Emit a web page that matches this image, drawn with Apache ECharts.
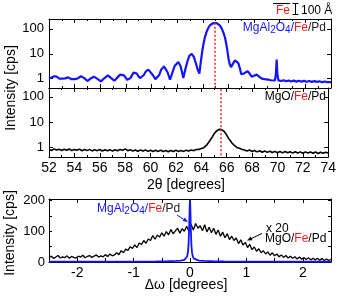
<!DOCTYPE html>
<html><head><meta charset="utf-8">
<script src="https://cdn.jsdelivr.net/npm/echarts@6/dist/echarts.min.js"></script>
<style>html,body{margin:0;padding:0;background:#fff}#c{width:339px;height:296px}</style>
</head><body><div id="c"></div>
<script>
// ---- data ----
const twoThetaTicks = [52,54,56,58,60,62,64,66,68,70,72,74];
const logTicks = [1,10,100];
const dwTicks = [-2,-1,0,1,2];
const peakLines = [64.9, 65.5];
// MgAl2O4/Fe/Pd  XRD  [2theta, cps]
const mgalXrd = [
[52.0,1.0],[52.1,0.95],[52.2,1.1],[52.3,1.05],[52.4,1.25],[52.5,1.3],[52.6,1.2],[52.7,1.15],[52.8,1.0],[52.95,0.9],[53.05,1.0],[53.15,1.08],[53.25,1.02],[53.4,1.2],[53.5,1.12],[53.65,1.05],[53.75,0.95],[53.9,0.85],[54.0,0.95],[54.1,1.05],[54.2,1.0],[54.35,1.2],[54.5,1.25],[54.6,1.15],[54.75,1.05],[54.85,0.92],[55.0,0.8],[55.1,0.9],[55.25,1.02],[55.35,1.1],[55.5,1.2],[55.6,1.1],[55.75,1.0],[55.9,0.88],[56.05,0.78],[56.2,0.92],[56.35,1.08],[56.5,1.25],[56.6,1.35],[56.75,1.2],[56.85,1.05],[57.0,0.9],[57.1,0.82],[57.25,1.0],[57.4,1.2],[57.55,1.45],[57.7,1.6],[57.85,1.35],[57.95,1.15],[58.1,0.9],[58.2,0.8],[58.35,1.05],[58.5,1.45],[58.6,1.75],[58.7,1.9],[58.85,1.6],[58.95,1.3],[59.1,1.05],[59.23,0.95],[59.4,1.4],[59.55,1.95],[59.75,2.3],[59.9,2.0],[60.1,1.4],[60.3,0.95],[60.45,0.83],[60.6,1.4],[60.75,2.3],[60.97,3.1],[61.1,2.7],[61.25,1.8],[61.44,0.9],[61.6,1.6],[61.8,3.2],[62.09,4.7],[62.25,3.3],[62.38,1.8],[62.48,1.07],[62.6,2.0],[62.8,5.0],[62.95,8.3],[63.13,10],[63.3,7.5],[63.45,4.3],[63.6,2.3],[63.73,1.6],[63.85,5],[63.95,12],[64.04,23],[64.17,48],[64.3,78],[64.43,110],[64.56,140],[64.69,160],[64.82,172],[64.95,176],[65.08,170],[65.21,156],[65.34,135],[65.47,105],[65.6,72],[65.73,45],[65.82,26],[65.91,14],[66.0,6.5],[66.1,3.8],[66.2,2.9],[66.3,3.3],[66.4,4.4],[66.51,5.4],[66.64,5.6],[66.77,4.2],[66.9,2.5],[67.0,1.5],[67.08,1.3],[67.2,1.6],[67.35,1.9],[67.5,2.0],[67.65,1.6],[67.81,1.2],[67.95,1.3],[68.2,1.45],[68.4,1.2],[68.6,1.0],[68.8,0.95],[68.95,0.88],[69.1,0.92],[69.3,0.86],[69.45,0.9],[69.62,0.84],[69.7,1.5],[69.76,5.8],[69.82,1.4],[69.9,0.85],[70.1,0.8],[70.3,0.86],[70.5,0.78],[70.7,0.84],[70.9,0.77],[71.1,0.83],[71.3,0.76],[71.5,0.82],[71.7,0.76],[71.9,0.81],[72.1,0.75],[72.3,0.8],[72.5,0.74],[72.7,0.79],[72.9,0.74],[73.1,0.78],[73.3,0.72],[73.5,0.77],[73.7,0.72],[73.85,0.76],[74.0,0.73]
];
// MgO/Fe/Pd  XRD  [2theta, cps]
const mgoXrd = [
[52.0,0.83],[52.2,0.76],[52.4,0.88],[52.6,0.79],[52.8,0.86],[53.0,0.76],[53.2,0.85],[53.4,0.78],[53.6,0.87],[53.8,0.75],[54.0,0.84],[54.2,0.77],[54.4,0.86],[54.6,0.74],[54.8,0.83],[55.0,0.76],[55.2,0.84],[55.4,0.73],[55.6,0.82],[55.8,0.75],[56.0,0.83],[56.2,0.73],[56.4,0.81],[56.6,0.74],[56.8,0.82],[57.0,0.72],[57.2,0.81],[57.4,0.74],[57.6,0.84],[57.8,0.77],[58.0,0.88],[58.2,0.75],[58.4,0.82],[58.6,0.72],[58.8,0.8],[59.0,0.71],[59.2,0.79],[59.4,0.72],[59.6,0.8],[59.8,0.7],[60.0,0.78],[60.2,0.69],[60.4,0.77],[60.6,0.7],[60.8,0.78],[61.0,0.69],[61.2,0.76],[61.4,0.68],[61.6,0.76],[61.8,0.69],[62.0,0.77],[62.2,0.69],[62.4,0.76],[62.6,0.7],[62.8,0.78],[63.0,0.72],[63.2,0.8],[63.4,0.75],[63.6,0.83],[63.8,0.84],[64.0,0.91],[64.2,0.98],[64.4,1.2],[64.6,1.65],[64.8,2.3],[65.0,3.4],[65.2,4.5],[65.4,5.2],[65.5,5.3],[65.6,5.1],[65.8,4.3],[66.0,3.1],[66.2,2.1],[66.4,1.55],[66.6,1.2],[66.8,1.0],[67.0,0.93],[67.2,0.84],[67.4,0.8],[67.6,0.73],[67.8,0.79],[68.0,0.69],[68.2,0.76],[68.4,0.67],[68.6,0.74],[68.8,0.65],[69.0,0.72],[69.2,0.64],[69.4,0.71],[69.6,0.63],[69.8,0.7],[70.0,0.62],[70.2,0.69],[70.4,0.61],[70.6,0.69],[70.8,0.62],[71.0,0.68],[71.2,0.6],[71.4,0.68],[71.6,0.61],[71.8,0.67],[72.0,0.59],[72.2,0.67],[72.4,0.6],[72.6,0.66],[72.8,0.59],[73.0,0.66],[73.2,0.58],[73.4,0.65],[73.6,0.59],[73.8,0.65],[74.0,0.6]
];
// rocking curves [delta omega, cps]
const mgalRocking = [
[-2.5,1],[-2,1],[-1.5,1.2],[-1,1.5],[-0.6,2],[-0.4,2.5],[-0.25,3.5],[-0.16,4.5],[-0.1,7],[-0.07,11],[-0.05,18],[-0.035,35],[-0.025,60],[-0.015,110],[-0.007,170],[0,203],[0.007,170],[0.015,105],[0.025,55],[0.035,32],[0.05,18],[0.07,11],[0.1,7],[0.16,4.5],[0.25,3.5],[0.4,2.5],[0.6,2],[1,1.5],[1.5,1.2],[2,1],[2.5,1]
];
const mgoRocking = [
[-2.50,15],[-2.46,19],[-2.42,12],[-2.38,16],[-2.34,21],[-2.30,13],[-2.26,17],[-2.22,14],[-2.18,20],[-2.14,12],[-2.10,18],[-2.06,15],[-2.02,13],[-1.98,19],[-1.94,16],[-1.90,22],[-1.86,14],[-1.82,18],[-1.78,21],[-1.74,15],[-1.70,19],[-1.66,23],[-1.62,16],[-1.58,20],[-1.54,17],[-1.50,24],[-1.46,18],[-1.42,26],[-1.38,20],[-1.34,23],[-1.30,30],[-1.26,24],[-1.22,37],[-1.18,30],[-1.14,42],[-1.10,38],[-1.06,50],[-1.02,44],[-0.98,56],[-0.94,47],[-0.90,62],[-0.86,57],[-0.82,70],[-0.78,61],[-0.74,75],[-0.70,70],[-0.66,86],[-0.62,74],[-0.58,88],[-0.54,81],[-0.50,95],[-0.46,84],[-0.42,99],[-0.38,88],[-0.34,106],[-0.30,92],[-0.26,101],[-0.22,110],[-0.18,94],[-0.14,108],[-0.10,100],[-0.06,116],[-0.02,101],[0.02,122],[0.06,104],[0.10,125],[0.14,110],[0.18,118],[0.22,102],[0.26,121],[0.30,98],[0.34,113],[0.38,95],[0.42,110],[0.46,90],[0.50,104],[0.54,84],[0.58,97],[0.62,79],[0.66,92],[0.70,73],[0.74,84],[0.78,70],[0.82,78],[0.86,60],[0.90,72],[0.94,55],[0.98,64],[1.02,47],[1.06,57],[1.10,40],[1.14,49],[1.18,35],[1.22,43],[1.26,30],[1.30,37],[1.34,26],[1.38,33],[1.42,22],[1.46,30],[1.50,20],[1.54,26],[1.58,17],[1.62,23],[1.66,15],[1.70,21],[1.74,13],[1.78,19],[1.82,12],[1.86,17],[1.90,10],[1.94,16],[1.98,9],[2.02,15],[2.06,8],[2.10,14],[2.14,7],[2.18,12],[2.22,7],[2.26,12],[2.30,6],[2.34,11],[2.38,5],[2.42,10],[2.46,5],[2.50,9]
];

// ---- chart ----
const FONT = "'Liberation Sans', Arial, sans-serif";
const BLUE = '#1414ff', RED = '#ff1a1a';
const chart = echarts.init(document.getElementById('c'), null, {renderer:'canvas'});

function xAx(grid, pos, showLabels, min, max, interval, fmt){
  return {type:'value', gridIndex:grid, position:pos, min, max, interval,
    axisLine:{show:true, onZero:false, lineStyle:{color:'#000', width:1}},
    axisTick:{show:true, inside:true, length:4, lineStyle:{color:'#000'}},
    minorTick:{show:interval===2, splitNumber:2, length:2, lineStyle:{color:'#000'}},
    splitLine:{show:false},
    axisLabel:{show:showLabels, color:'#000', fontSize:14, fontFamily:FONT, margin:4, formatter:fmt}};
}
function logAx(grid, pos, showLabels, max){
  return {type:'log', logBase:10, gridIndex:grid, position:pos, min:0.42, max,
    axisLine:{show:true, onZero:false, lineStyle:{color:'#000'}},
    axisTick:{show:true, inside:true, length:4, customValues:logTicks, lineStyle:{color:'#000'}},
    splitLine:{show:false},
    axisLabel:{show:showLabels, customValues:logTicks, color:'#000', fontSize:13, fontFamily:FONT, margin:5}};
}
function linAx(grid, pos, showLabels){
  return {type:'value', gridIndex:grid, position:pos, min:0, max:205, interval:50,
    axisLine:{show:true, onZero:false, lineStyle:{color:'#000'}},
    axisTick:{show:true, inside:true, length:3, lineStyle:{color:'#000'}},
    splitLine:{show:false},
    axisLabel:{show:showLabels, showMaxLabel:false, color:'#000', fontSize:13, fontFamily:FONT, margin:4,
      formatter:v => (v % 100 === 0 ? String(v) : '')}};
}
const dwFmt = v => (dwTicks.indexOf(v) >= 0 ? String(v) : '');

const option = {
  animation:false,
  backgroundColor:'#fff',
  grid:[
    {left:49, top:19, width:282, height:69},
    {left:49, top:88, width:282, height:69},
    {left:49, top:199, width:282, height:63}
  ],
  xAxis:[
    xAx(0,'bottom',false,twoThetaTicks[0],twoThetaTicks[twoThetaTicks.length-1],2),
    xAx(0,'top',false,twoThetaTicks[0],twoThetaTicks[twoThetaTicks.length-1],2),
    xAx(1,'bottom',true,twoThetaTicks[0],twoThetaTicks[twoThetaTicks.length-1],2),
    xAx(1,'top',false,twoThetaTicks[0],twoThetaTicks[twoThetaTicks.length-1],2),
    xAx(2,'bottom',true,-2.5,2.5,0.5,dwFmt),
    xAx(2,'top',false,-2.5,2.5,0.5,dwFmt)
  ],
  yAxis:[
    logAx(0,'left',true,250), logAx(0,'right',false,250),
    logAx(1,'left',true,225), logAx(1,'right',false,225),
    linAx(2,'left',true), linAx(2,'right',false)
  ],
  series:[
    {type:'line', xAxisIndex:0, yAxisIndex:0, data:mgalXrd, showSymbol:false, z:3,
      lineStyle:{color:BLUE, width:2.2},
      markLine:{silent:true, symbol:'none', label:{show:false}, lineStyle:{color:RED, type:[2,2], width:1.5},
        data:[[{coord:[peakLines[0],176]},{coord:[peakLines[0],0.42]}]]}},
    {type:'line', xAxisIndex:2, yAxisIndex:2, data:mgoXrd, showSymbol:false, z:3,
      lineStyle:{color:'#000', width:1.6},
      markLine:{silent:true, symbol:'none', label:{show:false}, lineStyle:{color:RED, type:[2,2], width:1.5},
        data:[[{coord:[peakLines[1],200]},{coord:[peakLines[1],0.42]}]]}},
    {type:'line', xAxisIndex:4, yAxisIndex:4, data:mgoRocking, showSymbol:false, z:2,
      lineStyle:{color:'#000', width:1.3}},
    {type:'line', xAxisIndex:4, yAxisIndex:4, data:mgalRocking, showSymbol:false, z:3,
      lineStyle:{color:BLUE, width:1.8}}
  ],
  graphic:[
    {type:'text', x:11, y:88, rotation:Math.PI/2, style:{text:'Intensity [cps]', font:'14px '+FONT, fill:'#000', align:'center', verticalAlign:'middle'}},
    {type:'text', x:10, y:233, rotation:Math.PI/2, style:{text:'Intensity [cps]', font:'14px '+FONT, fill:'#000', align:'center', verticalAlign:'middle'}},
    {type:'text', x:186, y:185, style:{text:'2θ [degrees]', font:'14px '+FONT, fill:'#000', align:'center', verticalAlign:'middle'}},
    {type:'text', x:186, y:285, style:{text:'Δω [degrees]', font:'14px '+FONT, fill:'#000', align:'center', verticalAlign:'middle'}},
    // top-right legend
    {type:'text', x:276, y:11, style:{text:'Fe', font:'12px '+FONT, fill:RED, align:'left', verticalAlign:'middle'}},
    {type:'line', shape:{x1:273, y1:3.5, x2:290, y2:3.5}, style:{stroke:'#000', lineWidth:1}},
    {type:'line', shape:{x1:295.5, y1:3, x2:295.5, y2:15}, style:{stroke:'#000', lineWidth:1}},
    {type:'line', shape:{x1:292.5, y1:3.5, x2:298.5, y2:3.5}, style:{stroke:'#000', lineWidth:1}},
    {type:'line', shape:{x1:292.5, y1:14.5, x2:298.5, y2:14.5}, style:{stroke:'#000', lineWidth:1}},
    {type:'text', x:301, y:11, style:{text:'100 Å', font:'12px '+FONT, fill:'#000', align:'left', verticalAlign:'middle'}},
    // panel labels
    {type:'text', x:326, y:28, style:{text:'{b|MgAl}{s|2}{b|O}{s|4}{b|/}{r|Fe}{k|/Pd}', align:'right', verticalAlign:'middle',
      rich:{b:{fill:BLUE, fontSize:12, fontFamily:FONT, lineHeight:14}, s:{fill:BLUE, fontSize:10, fontFamily:FONT, lineHeight:6, verticalAlign:'bottom'},
            r:{fill:RED, fontSize:12, fontFamily:FONT, lineHeight:14}, k:{fill:'#222', fontSize:12, fontFamily:FONT, lineHeight:14}}}},
    {type:'text', x:326, y:97, style:{text:'{k|MgO/}{r|Fe}{k|/Pd}', align:'right', verticalAlign:'middle',
      rich:{r:{fill:RED, fontSize:12, fontFamily:FONT}, k:{fill:'#000', fontSize:12, fontFamily:FONT}}}},
    {type:'text', x:97, y:209, style:{text:'{b|MgAl}{s|2}{b|O}{s|4}{b|/}{r|Fe}{k|/Pd}', align:'left', verticalAlign:'middle',
      rich:{b:{fill:BLUE, fontSize:12, fontFamily:FONT, lineHeight:14}, s:{fill:BLUE, fontSize:10, fontFamily:FONT, lineHeight:6, verticalAlign:'bottom'},
            r:{fill:RED, fontSize:12, fontFamily:FONT, lineHeight:14}, k:{fill:'#222', fontSize:12, fontFamily:FONT, lineHeight:14}}}},
    {type:'text', x:266, y:229, style:{text:'x 20', font:'12px '+FONT, fill:'#000', align:'left', verticalAlign:'middle'}},
    {type:'text', x:265, y:238.5, style:{text:'{k|MgO/}{r|Fe}{k|/Pd}', align:'left', verticalAlign:'middle',
      rich:{r:{fill:RED, fontSize:12, fontFamily:FONT}, k:{fill:'#000', fontSize:12, fontFamily:FONT}}}},
    // arrows
    {type:'line', shape:{x1:177, y1:215, x2:185, y2:220.2}, style:{stroke:BLUE, lineWidth:1}},
    {type:'polygon', shape:{points:[[188,222],[182.7,221.0],[184.9,217.6]]}, style:{fill:BLUE}},
    {type:'line', shape:{x1:262, y1:233.5, x2:250.5, y2:238.9}, style:{stroke:'#000', lineWidth:1}},
    {type:'polygon', shape:{points:[[247,240.5],[250.7,236.6],[252.4,240.2]]}, style:{fill:'#000'}}
  ]
};
chart.setOption(option);
</script>
</body></html>
